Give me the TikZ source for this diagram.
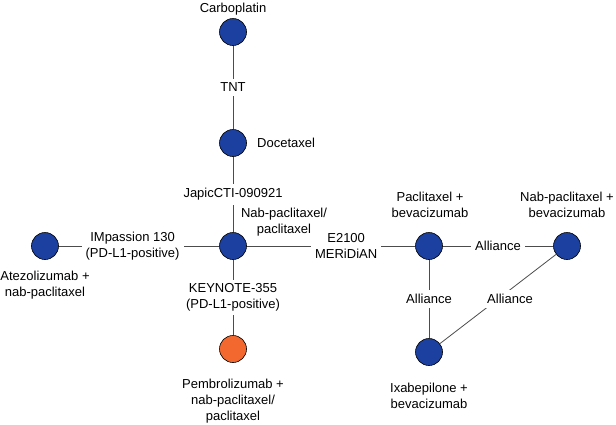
\documentclass[tikz,border=0pt]{standalone}
\usepackage{fontspec}
\setmainfont{Liberation Sans}
\usepackage{tikz}

\definecolor{trialblue}{RGB}{28,64,160}
\definecolor{trialorange}{RGB}{242,104,46}

\begin{document}
\begin{tikzpicture}[x=1pt,y=-1pt,
  font=\fontsize{13}{16}\selectfont,
  drug/.style={circle,draw=black,line width=0.6pt,fill=trialblue,minimum size=27pt,inner sep=0pt},
  link/.style={draw=black!70,line width=0.8pt},
  trial/.style={fill=white,inner sep=4pt,align=center},
  txt/.style={align=center,inner sep=0pt}]
\useasboundingbox (0,0) rectangle (616,424);

% treatments
\node[drug] (carbo) at (233,32) {};
\node[drug] (doce) at (233,143) {};
\node[drug] (nabp) at (233,246) {};
\node[drug] (atezo) at (45,246) {};
\node[drug,fill=trialorange] (pembro) at (233,349) {};
\node[drug] (pacbev) at (429,246) {};
\node[drug] (nabbev) at (567,246) {};
\node[drug] (ixa) at (429,352) {};

\node[txt] (tcarbo) at (233,9) {Carboplatin};
\node[txt,anchor=west] (tdoce) at (257,143) {Docetaxel};
\node[txt] (tnabp) at (284,222) {Nab-paclitaxel/\\paclitaxel};
\node[txt] (tatezo) at (45,285) {Atezolizumab +\\nab-paclitaxel};
\node[txt] (tpembro) at (233,401) {Pembrolizumab +\\nab-paclitaxel/\\paclitaxel};
\node[txt] (tpacbev) at (430,205) {Paclitaxel +\\bevacizumab};
\node[txt] (tnabbev) at (567,205) {Nab-paclitaxel +\\bevacizumab};
\node[txt] (tixa) at (429,396) {Ixabepilone +\\bevacizumab};

% trials
\draw[link] (carbo) -- node[trial] (tnt) {TNT} (doce);
\draw[link] (doce) -- node[trial] (japic) {JapicCTI-090921} (nabp);
\draw[link] (atezo) -- node[trial,pos=0.46] (impass) {IMpassion 130\\(PD-L1-positive)} (nabp);
\draw[link] (nabp) -- node[trial] (keynote) {KEYNOTE-355\\(PD-L1-positive)} (pembro);
\draw[link] (nabp) -- node[trial,pos=0.59] (e2100) {E2100\\MERiDiAN} (pacbev);
\draw[link] (pacbev) -- node[trial] (all1) {Alliance} (nabbev);
\draw[link] (pacbev) -- node[trial] (all2) {Alliance} (ixa);
\draw[link] (ixa) -- node[trial,xshift=12pt] (all3) {Alliance} (nabbev);
\end{tikzpicture}
\end{document}
